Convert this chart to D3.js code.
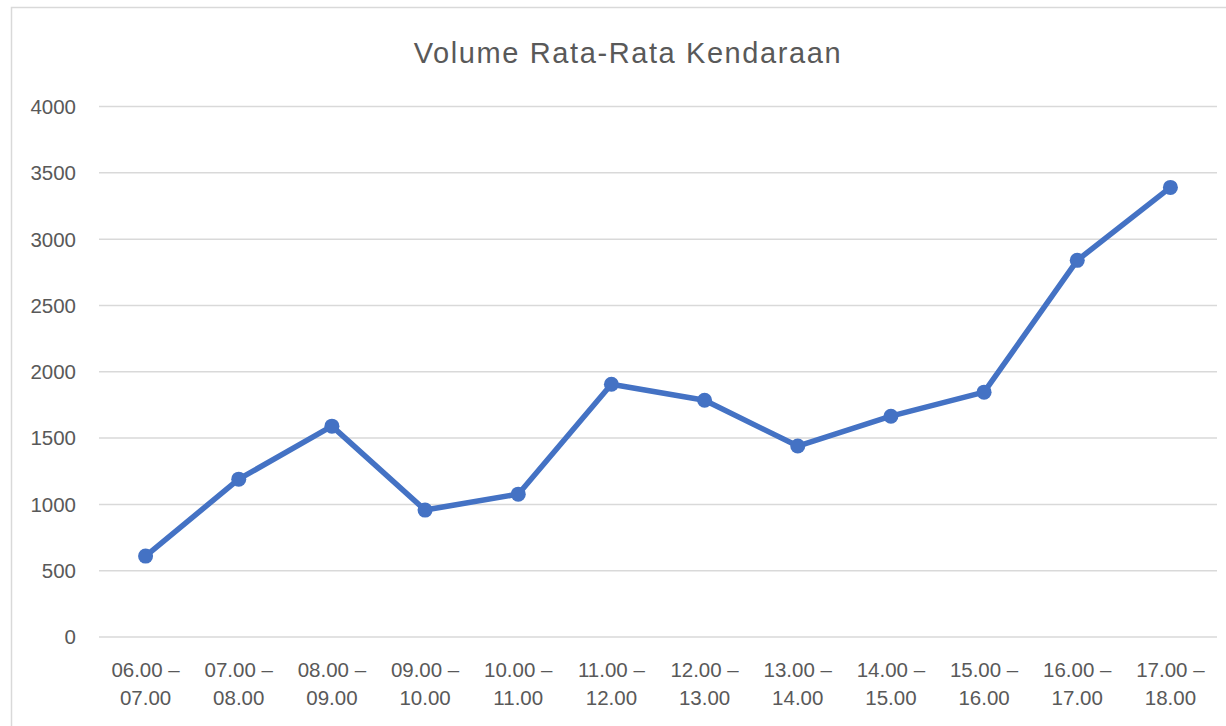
<!DOCTYPE html>
<html><head><meta charset="utf-8">
<script src="https://cdn.jsdelivr.net/npm/d3@7"></script>
<style>body{margin:0;background:#fff;} svg{display:block;}</style>
</head><body>
<svg id="c" width="1226" height="726"></svg>
<script>
const title = "Volume Rata-Rata Kendaraan";
const categoriesTop = ["06.00 –","07.00 –","08.00 –","09.00 –","10.00 –","11.00 –","12.00 –","13.00 –","14.00 –","15.00 –","16.00 –","17.00 –"];
const categoriesBottom = ["07.00","08.00","09.00","10.00","11.00","12.00","13.00","14.00","15.00","16.00","17.00","18.00"];
const values = [610, 1190, 1590, 957, 1077, 1906, 1785, 1440, 1665, 1846, 2840, 3390];
const yTicks = [0, 500, 1000, 1500, 2000, 2500, 3000, 3500, 4000];

(function () {
const svg = d3.select("#c");
const font = "'Liberation Sans', Arial, sans-serif";
const textColor = "#595959";
const pLeft = 99, pRight = 1217, pTop = 106.5, pBottom = 637;

// chart area border
svg.append("rect").attr("x", 11.5).attr("y", 7.5).attr("width", 1240).attr("height", 760)
  .attr("fill", "none").attr("stroke", "#d9d9d9").attr("stroke-width", 1.5);

const x = d3.scaleBand().domain(d3.range(values.length)).range([pLeft, pRight]);
const y = d3.scaleLinear().domain([0, 4000]).range([pBottom, pTop]);

// gridlines
svg.append("g").selectAll("line").data(yTicks).join("line")
  .attr("x1", pLeft).attr("x2", pRight)
  .attr("y1", d => y(d)).attr("y2", d => y(d))
  .attr("stroke", "#d9d9d9").attr("stroke-width", 1.5);

// y labels
svg.append("g").selectAll("text").data(yTicks).join("text")
  .attr("x", 76).attr("y", d => y(d)).attr("dy", "0.36em")
  .attr("text-anchor", "end").attr("font-family", font).attr("font-size", 20.5)
  .attr("fill", textColor).text(d => d);

// x labels
const xl = svg.append("g").selectAll("text").data(values).join("text")
  .attr("text-anchor", "middle").attr("font-family", font).attr("font-size", 20.5)
  .attr("fill", textColor);
xl.append("tspan").attr("x", (d, i) => x(i) + x.bandwidth() / 2).attr("y", 677).text((d, i) => categoriesTop[i]);
xl.append("tspan").attr("x", (d, i) => x(i) + x.bandwidth() / 2).attr("y", 705).text((d, i) => categoriesBottom[i]);

// line
const line = d3.line().x((d, i) => x(i) + x.bandwidth() / 2).y(d => y(d));
svg.append("path").datum(values).attr("d", line)
  .attr("fill", "none").attr("stroke", "#4472C4").attr("stroke-width", 5.5)
  .attr("stroke-linejoin", "round").attr("stroke-linecap", "round");

svg.append("g").selectAll("circle").data(values).join("circle")
  .attr("cx", (d, i) => x(i) + x.bandwidth() / 2).attr("cy", d => y(d)).attr("r", 7.5)
  .attr("fill", "#4472C4");

// title
svg.append("text").attr("x", 628).attr("y", 63).attr("text-anchor", "middle")
  .attr("font-family", font).attr("font-size", 29).attr("letter-spacing", 1.6)
  .attr("fill", textColor).text(title);
})();
</script>
</body></html>
